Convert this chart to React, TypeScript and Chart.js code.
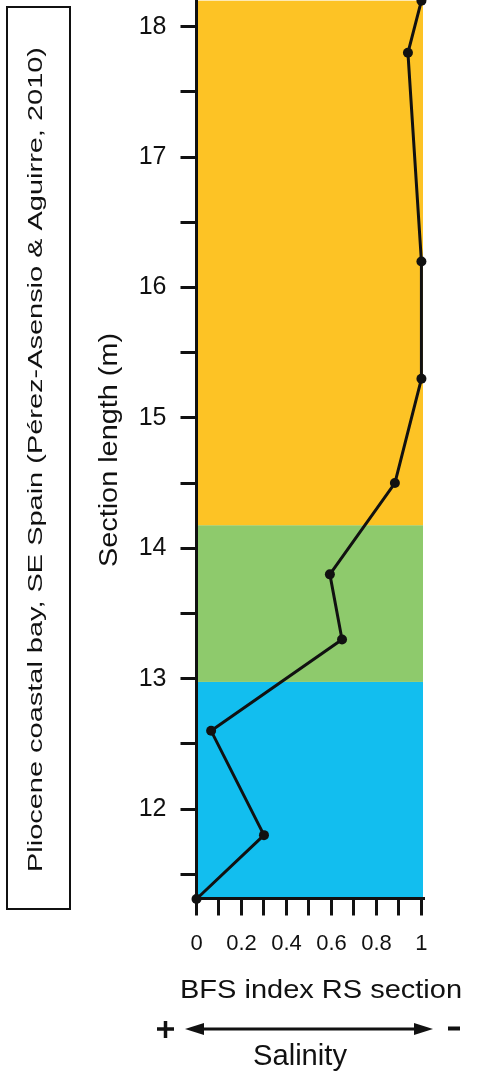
import { useEffect, useRef } from 'react';
import { Chart, registerables } from 'chart.js';

Chart.register(...registerables);

const FONT = '"Liberation Sans", Arial, sans-serif';

// Data
const sectionLength = [11.31, 11.8, 12.6, 13.3, 13.8, 14.5, 15.3, 16.2, 17.8, 18.2];
const bfsIndex = [0, 0.3, 0.065, 0.647, 0.593, 0.882, 1.0, 1.0, 0.94, 1.0];

// Coloured environment bands (section length, m)
const bandFrom = [11.31, 12.975, 14.177];
const bandTo = [12.975, 14.177, 18.2];
const bandColors = ['#12BEEF', '#8ECA6C', '#FDC325'];

// Ticks
const xTickValues = [0, 0.1, 0.2, 0.3, 0.4, 0.5, 0.6, 0.7, 0.8, 0.9, 1];
const xTickLabels = ['0', '', '0.2', '', '0.4', '', '0.6', '', '0.8', '', '1'];
const yTickValues = [11.5, 12, 12.5, 13, 13.5, 14, 14.5, 15, 15.5, 16, 16.5, 17, 17.5, 18];
const yTickLabels = ['', '12', '', '13', '', '14', '', '15', '', '16', '', '17', '', '18'];

const boxTitle = 'Pliocene coastal bay, SE Spain (Pérez-Asensio & Aguirre, 2010)';
const yTitle = 'Section length (m)';
const xTitle = 'BFS index RS section';
const arrowTitle = 'Salinity';

function fitText(
  ctx: CanvasRenderingContext2D,
  text: string,
  x: number,
  y: number,
  size: number,
  width: number,
  rotate: boolean
) {
  ctx.save();
  ctx.translate(x, y);
  if (rotate) ctx.rotate(-Math.PI / 2);
  ctx.font = `${size}px ${FONT}`;
  const w = ctx.measureText(text).width;
  ctx.scale(width / w, 1);
  ctx.textAlign = 'center';
  ctx.textBaseline = 'alphabetic';
  ctx.fillStyle = '#111';
  ctx.fillText(text, 0, 0);
  ctx.restore();
}

const decorPlugin = {
  id: 'decor',
  beforeDraw(chart: any) {
    const { ctx } = chart;
    const xs = chart.scales.x;
    const ys = chart.scales.y;
    ctx.save();
    ctx.fillStyle = '#fff';
    ctx.fillRect(0, 0, chart.width, chart.height);
    const left = xs.getPixelForValue(xs.min);
    const right = xs.getPixelForValue(xs.max);
    for (let i = 0; i < bandFrom.length; i++) {
      const top = ys.getPixelForValue(bandTo[i]);
      const bottom = ys.getPixelForValue(bandFrom[i]);
      ctx.fillStyle = bandColors[i];
      ctx.fillRect(left, top, right - left, bottom - top);
    }
    ctx.restore();
  },
  afterDraw(chart: any) {
    const { ctx } = chart;
    ctx.save();
    // boxed title
    ctx.strokeStyle = '#111';
    ctx.lineWidth = 2;
    ctx.strokeRect(7, 7, 63, 902);
    fitText(ctx, boxTitle, 42, 459.5, 21, 825, true);
    // y title
    fitText(ctx, yTitle, 117, 450, 26, 234, true);
    // x title
    fitText(ctx, xTitle, 321, 998, 26, 282, false);
    // salinity arrow
    ctx.strokeStyle = '#111';
    ctx.fillStyle = '#111';
    ctx.lineWidth = 3;
    ctx.beginPath();
    ctx.moveTo(200, 1029);
    ctx.lineTo(417, 1029);
    ctx.stroke();
    ctx.beginPath();
    ctx.moveTo(185, 1029);
    ctx.lineTo(204, 1023);
    ctx.lineTo(204, 1035);
    ctx.closePath();
    ctx.fill();
    ctx.beginPath();
    ctx.moveTo(433, 1029);
    ctx.lineTo(414, 1023);
    ctx.lineTo(414, 1035);
    ctx.closePath();
    ctx.fill();
    // plus sign
    ctx.lineWidth = 3.5;
    ctx.beginPath();
    ctx.moveTo(157, 1029);
    ctx.lineTo(174, 1029);
    ctx.moveTo(165.5, 1021);
    ctx.lineTo(165.5, 1038);
    ctx.stroke();
    // minus sign
    ctx.fillRect(448, 1026.5, 12, 4);
    fitText(ctx, arrowTitle, 300, 1065, 29, 94, false);
    ctx.restore();
  },
};

export default function App() {
  const canvasRef = useRef<HTMLCanvasElement | null>(null);

  useEffect(() => {
    const canvas = canvasRef.current;
    if (!canvas) return;
    const points = bfsIndex.map((x, i) => ({ x, y: sectionLength[i] }));
    const chart = new Chart(canvas, {
      type: 'scatter',
      data: {
        datasets: [
          {
            data: points,
            showLine: true,
            borderColor: '#111',
            borderWidth: 3,
            pointRadius: 5,
            pointBackgroundColor: '#111',
            pointBorderWidth: 0,
            clip: false as any,
          } as any,
        ],
      },
      options: {
        responsive: false,
        animation: false,
        events: [],
        layout: { autoPadding: false, padding: { top: 0, left: 0, right: 55, bottom: 0 } },
        plugins: {
          legend: { display: false },
          tooltip: { enabled: false },
        },
        scales: {
          x: {
            type: 'linear',
            min: 0,
            max: 1.007,
            afterBuildTicks: (s: any) => {
              s.ticks = xTickValues.map((v) => ({ value: v }));
            },
            afterFit: (s: any) => {
              s.height = 181.5;
              s.paddingLeft = 0;
              s.paddingRight = 0;
            },
            ticks: {
              autoSkip: false,
              maxRotation: 0,
              color: '#111',
              padding: 15,
              font: { size: 22, family: FONT },
              callback: (_v: any, i: number) => xTickLabels[i],
            },
            grid: {
              drawOnChartArea: false,
              drawTicks: true,
              tickLength: 17,
              color: '#111',
              lineWidth: 3,
            },
            border: { display: true, color: '#111', width: 3 },
          },
          y: {
            type: 'linear',
            min: 11.314,
            max: 18.205,
            afterBuildTicks: (s: any) => {
              s.ticks = yTickValues.map((v) => ({ value: v }));
            },
            afterFit: (s: any) => {
              s.width = 196.5;
              s.paddingTop = 0;
              s.paddingBottom = 0;
            },
            ticks: {
              autoSkip: false,
              color: '#111',
              padding: 14,
              font: { size: 25, family: FONT },
              callback: (_v: any, i: number) => yTickLabels[i],
            },
            grid: {
              drawOnChartArea: false,
              drawTicks: true,
              tickLength: 16,
              color: '#111',
              lineWidth: 3,
            },
            border: { display: true, color: '#111', width: 3 },
          },
        },
      } as any,
      plugins: [decorPlugin],
    });
    return () => chart.destroy();
  }, []);

  return (
    <canvas
      ref={canvasRef}
      width={478}
      height={1080}
      style={{ position: 'absolute', left: 0, top: 0, display: 'block', width: 478, height: 1080 }}
    />
  );
}
